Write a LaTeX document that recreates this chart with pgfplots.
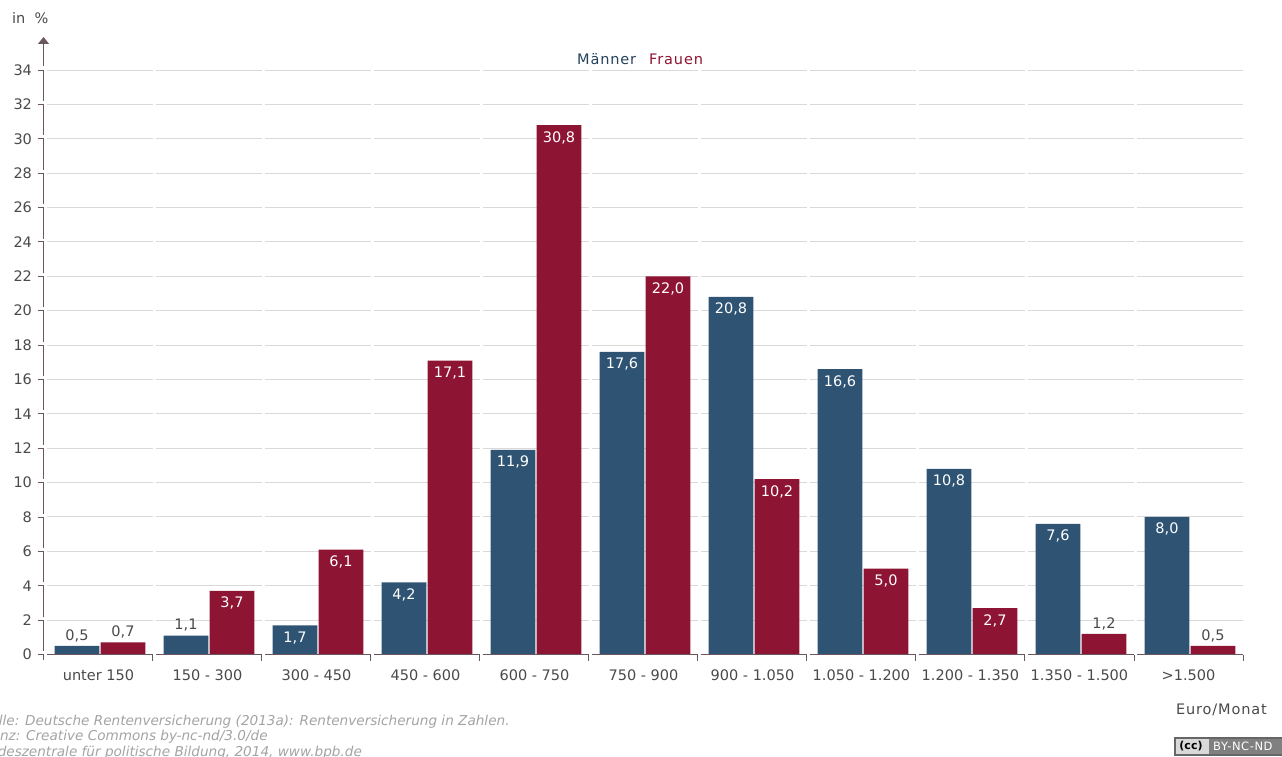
\documentclass[border=0pt]{standalone}
\usepackage{pgfplots}
\pgfplotsset{compat=1.18}
\usepackage{fontspec}
\setmainfont{DejaVu Sans}
\usetikzlibrary{arrows.meta}

\definecolor{maenner}{HTML}{2F5373}
\definecolor{frauen}{HTML}{8E1433}
\definecolor{gridgrey}{HTML}{D9D9D9}
\definecolor{axisline}{HTML}{6B5660}
\definecolor{labelgrey}{HTML}{4A4A4A}
\definecolor{sourcegrey}{HTML}{A3A3A3}

\newcommand{\chartfont}{\fontsize{14.5}{16}\selectfont}
\newcommand{\spacedfont}{\fontsize{14.5}{16}\selectfont\addfontfeatures{LetterSpace=6}}

% Bars whose label sits inside the bar, and bars labelled above it
\pgfplotstableread{
x y l
2 1.7 {1,7}
3 4.2 {4,2}
4 11.9 {11,9}
5 17.6 {17,6}
6 20.8 {20,8}
7 16.6 {16,6}
8 10.8 {10,8}
9 7.6 {7,6}
10 8.0 {8,0}
}\maennerInnen
\pgfplotstableread{
x y l
0 0.5 {0,5}
1 1.1 {1,1}
}\maennerAussen
\pgfplotstableread{
x y l
1 3.7 {3,7}
2 6.1 {6,1}
3 17.1 {17,1}
4 30.8 {30,8}
5 22.0 {22,0}
6 10.2 {10,2}
7 5.0 {5,0}
8 2.7 {2,7}
}\frauenInnen
\pgfplotstableread{
x y l
0 0.7 {0,7}
9 1.2 {1,2}
10 0.5 {0,5}
}\frauenAussen

\pgfplotsset{
  bars/.style={ybar, bar width=44.6pt, draw=none, nodes near coords,
    point meta=explicit symbolic},
  inner label/.style={nodes near coords align={anchor=north},
    every node near coord/.append style={font=\chartfont, text=white, inner sep=0pt,
      xshift=#1, yshift=-6pt}},
  outer label/.style={nodes near coords align={anchor=south},
    every node near coord/.append style={font=\chartfont, text=labelgrey, inner sep=0pt,
      text depth=0pt, xshift=#1, yshift=5.5pt}},
}

\begin{document}
\begin{tikzpicture}
\useasboundingbox (0,0) rectangle (1282pt,756pt);
\begin{axis}[
  anchor=south west, at={(43.5pt,101.5pt)},
  x=109pt, y=17.19pt,
  xmin=-0.518, xmax=10.486, ymin=0, ymax=34,
  clip=false,
  axis line style={draw=none},
  xtick={0,...,10},
  xticklabels={unter 150,150 - 300,300 - 450,450 - 600,600 - 750,750 - 900,900 - 1.050,1.050 - 1.200,1.200 - 1.350,1.350 - 1.500,>1.500},
  minor xtick={0.486,1.486,2.486,3.486,4.486,5.486,6.486,7.486,8.486,9.486,10.486},
  ytick={0,2,...,34},
  tick align=outside,
  xtick pos=bottom, ytick pos=left,
  x tick style={draw=none},
  minor x tick style={draw=axisline, line width=0.9pt},
  y tick style={draw=axisline, line width=0.9pt},
  major tick length=6pt, minor tick length=6pt,
  ymajorgrids,
  major grid style={draw=gridgrey, line width=1pt, dash pattern=on 106pt off 3pt, dash phase=106pt},
  tick label style={font=\chartfont, text=labelgrey},
  /pgf/number format/assume math mode=true,
  xticklabel style={yshift=-6pt, xshift=-1.5pt},
  yticklabel style={xshift=-2pt},
]
\addplot[bars, fill=maenner, bar shift=-23pt, inner label=-23pt] table[x=x, y=y, meta=l] {\maennerInnen};
\addplot[bars, fill=maenner, bar shift=-23pt, outer label=-23pt] table[x=x, y=y, meta=l] {\maennerAussen};
\addplot[bars, fill=frauen, bar shift=23pt, inner label=23pt] table[x=x, y=y, meta=l] {\frauenInnen};
\addplot[bars, fill=frauen, bar shift=23pt, outer label=23pt] table[x=x, y=y, meta=l] {\frauenAussen};
\end{axis}

% Interrupted axis lines
\draw[axisline, line width=1pt, dash pattern=on 31pt off 3.38pt] (43.5pt,686pt) -- (43.5pt,96pt);
\draw[axisline, line width=1pt, -{Triangle[width=11pt,length=7pt]}] (43.5pt,690pt) -- (43.5pt,719pt);
\draw[axisline, line width=1pt, dash pattern=on 106pt off 3pt, dash phase=106pt] (44pt,101.5pt) -- (1243pt,101.5pt);

% Axis captions and series names
\node[font=\chartfont, text=labelgrey, anchor=west, inner sep=0pt] at (12pt,738pt) {in\ \ \%};
\node[font=\spacedfont, text=labelgrey, anchor=east, inner sep=0pt] at (1267pt,46pt) {Euro/Monat};
\node[font=\spacedfont, text=maenner!80!black, anchor=west, inner sep=0pt] at (577pt,697pt) {Männer};
\node[font=\spacedfont, text=frauen, anchor=west, inner sep=0pt] at (649pt,697pt) {Frauen};

% Source lines and licence badge, cut off at the page edge
\begin{scope}
\clip (0,0) rectangle (1282pt,756pt);
\begin{scope}[every node/.style={font=\itshape\fontsize{13.6}{15}\selectfont, text=sourcegrey, anchor=west, inner sep=0pt}]
\node at (-29pt,34pt) {Quelle: Deutsche Rentenversicherung (2013a): Rentenversicherung in Zahlen.};
\node at (-27pt,19pt) {Lizenz: Creative Commons by-nc-nd/3.0/de};
\node at (-29pt,3.5pt) {Bundeszentrale für politische Bildung, 2014, www.bpb.de};
\end{scope}
\fill[black!60] (1174pt,0pt) rectangle (1282pt,19pt);
\fill[black!15] (1176pt,2pt) rectangle (1209pt,17pt);
\fill[black!50] (1209pt,2pt) rectangle (1282pt,17pt);
\node[font=\bfseries\fontsize{11}{12}\selectfont, text=black, inner sep=0pt] at (1191pt,9.5pt) {(cc)};
\node[font=\fontsize{11.5}{12}\selectfont\addfontfeatures{LetterSpace=5}, text=white, inner sep=0pt, anchor=west] at (1213pt,9.5pt) {BY-NC-ND};
\end{scope}
\end{tikzpicture}
\end{document}
